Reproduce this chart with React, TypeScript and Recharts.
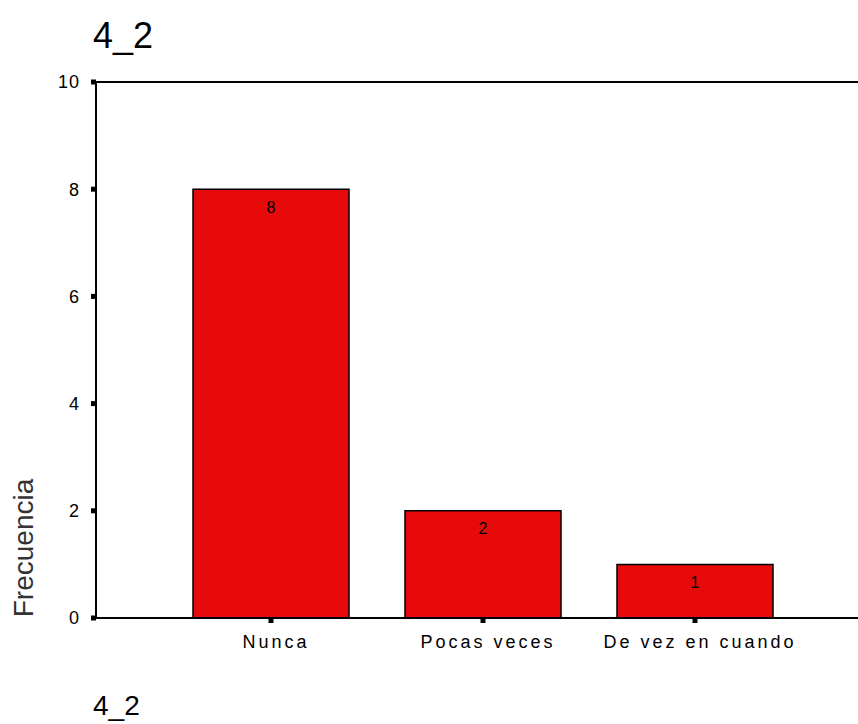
import { BarChart, Bar, XAxis, YAxis, ReferenceLine, LabelList } from 'recharts';

const categories = ['Nunca', 'Pocas veces', 'De vez en cuando'];
const frecuencia = [8, 2, 1];
const yTicks = [0, 2, 4, 6, 8, 10];

const data = categories.map((c, i) => ({ name: c, value: frecuencia[i] }));

const FONT = 'Arial, "Liberation Sans", sans-serif';

export default function App() {
  return (
    <div style={{ position: 'absolute', left: 0, top: 0, width: 858, height: 724, background: '#fff', fontFamily: FONT }}>
      <div style={{ position: 'absolute', left: 93, top: 16, fontSize: 36, lineHeight: '40px', color: '#000' }}>4_2</div>
      <div style={{ position: 'absolute', left: 93, top: 690, fontSize: 28, lineHeight: '32px', color: '#000' }}>4_2</div>
      <div
        style={{
          position: 'absolute',
          left: 24,
          top: 548,
          transform: 'translate(-50%, -50%) rotate(-90deg)',
          fontSize: 28,
          color: '#333',
          whiteSpace: 'nowrap',
        }}
      >
        Frecuencia
      </div>
      <BarChart
        width={858}
        height={724}
        data={data}
        margin={{ top: 82, right: 0, left: 56, bottom: 66 }}
        barCategoryGap={28}
        style={{ position: 'absolute', left: 0, top: 0 }}
      >
        <XAxis
          dataKey="name"
          height={40}
          padding={{ left: 69, right: 57 }}
          axisLine={{ stroke: '#000', strokeWidth: 2 }}
          tickLine={{ stroke: '#000', strokeWidth: 5 }}
          tickSize={5}
          tickMargin={12}
          tick={{ fontSize: 18, fill: '#000', fontFamily: FONT, letterSpacing: 3, dx: 5 }}
        />
        <YAxis
          width={40}
          domain={[0, 10]}
          ticks={yTicks}
          axisLine={{ stroke: '#000', strokeWidth: 2 }}
          tickLine={{ stroke: '#000', strokeWidth: 5 }}
          tickSize={5}
          tickMargin={11}
          tick={{ fontSize: 18, fill: '#000', fontFamily: FONT, letterSpacing: 1 }}
        />
        <ReferenceLine y={10} stroke="#000" strokeWidth={2} />
        <Bar dataKey="value" fill="#e60a0a" stroke="#000" strokeWidth={1.5} isAnimationActive={false}>
          <LabelList dataKey="value" position="insideTop" offset={12} fontSize={16} fill="#000" fontFamily={FONT} />
        </Bar>
      </BarChart>
    </div>
  );
}
